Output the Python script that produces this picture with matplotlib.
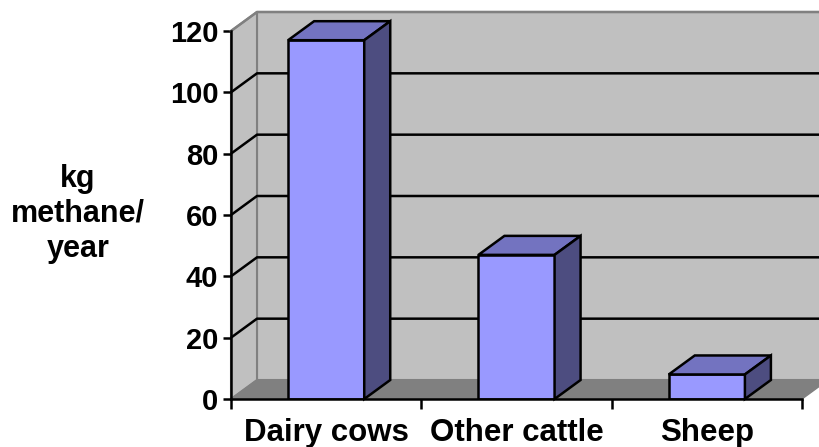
import matplotlib
matplotlib.use("Agg")
import matplotlib.pyplot as plt
from matplotlib.patches import Polygon

categories = ["Dairy cows", "Other cattle", "Sheep"]
values = [117, 47, 8]
y_ticks = [0, 20, 40, 60, 80, 100, 120]
y_label = "kg\nmethane/\nyear"

plt.rcParams['font.family'] = ['Liberation Sans', 'DejaVu Sans']

W, H = 820, 447
fig = plt.figure(figsize=(W / 100, H / 100), dpi=100)
left_px, right_px, bot_px, top_px = 231, 802, 399, 31
ax = fig.add_axes([left_px / W, (H - bot_px) / H, (right_px - left_px) / W, (bot_px - top_px) / H])

n = len(categories)
ymax = 120
ax.set_xlim(0, n)
ax.set_ylim(0, ymax)

# depth offsets (px -> data)
dx = 26 * n / (right_px - left_px)
dy = 19 * ymax / (bot_px - top_px)

wall = "#c0c0c0"
floor = "#808080"
edge_gray = "#808080"

# back wall
ax.add_patch(Polygon([(dx, dy), (n + dx, dy), (n + dx, ymax + dy), (dx, ymax + dy)],
                     closed=True, facecolor=wall, edgecolor=edge_gray, lw=1.5, clip_on=False, zorder=1))
# side wall
ax.add_patch(Polygon([(0, 0), (dx, dy), (dx, ymax + dy), (0, ymax)],
                     closed=True, facecolor=wall, edgecolor=edge_gray, lw=1.5, clip_on=False, zorder=1))
# floor
ax.add_patch(Polygon([(0, 0), (n, 0), (n + dx, dy), (dx, dy)],
                     closed=True, facecolor=floor, edgecolor=edge_gray, lw=1.0, clip_on=False, zorder=1))

# gridlines
for v in y_ticks[1:-1]:
    ax.plot([0, dx, n + dx], [v, v + dy, v + dy], color="black", lw=1.8, clip_on=False, zorder=2,
            solid_capstyle="butt")
ax.plot([0, dx, n + dx], [ymax, ymax + dy, ymax + dy], color=edge_gray, lw=1.8, clip_on=False, zorder=2)

# bars
bw = 0.4
front_c, top_c, side_c = "#9999ff", "#7373c0", "#4d4d80"
for i, v in enumerate(values):
    x0 = i + 0.5 - bw / 2
    x1 = x0 + bw
    ax.add_patch(Polygon([(x0, 0), (x1, 0), (x1, v), (x0, v)], closed=True,
                         facecolor=front_c, edgecolor="black", lw=1.8, zorder=4, joinstyle="miter"))
    ax.add_patch(Polygon([(x0, v), (x1, v), (x1 + dx, v + dy), (x0 + dx, v + dy)], closed=True,
                         facecolor=top_c, edgecolor="black", lw=1.8, zorder=4, clip_on=False))
    ax.add_patch(Polygon([(x1, 0), (x1 + dx, dy), (x1 + dx, v + dy), (x1, v)], closed=True,
                         facecolor=side_c, edgecolor="black", lw=1.8, zorder=4, clip_on=False))

# axes
for s in ["top", "right"]:
    ax.spines[s].set_visible(False)
ax.spines["left"].set_linewidth(1.8)
ax.spines["bottom"].set_linewidth(1.8)
ax.spines["left"].set_zorder(5)
ax.spines["bottom"].set_zorder(5)
ax.patch.set_visible(False)

ax.set_yticks(y_ticks)
ax.set_yticklabels([str(t) for t in y_ticks], fontsize=21, fontweight="bold")
ax.set_xticks(range(n + 1))
ax.set_xticklabels([])
ax.set_xticks([i + 0.5 for i in range(n)], minor=True)
ax.set_xticklabels(categories, minor=True, fontsize=22.5, fontweight="bold")
ax.tick_params(axis="x", which="minor", length=0, pad=14)
ax.tick_params(axis="x", which="major", length=7, width=1.8, direction="out")
ax.tick_params(axis="y", length=6, width=1.8, direction="out", pad=3)

fig.text(78 / W, 1 - 214 / H, y_label, fontsize=22, fontweight="bold", ha="center", va="center",
         linespacing=1.2)

fig.savefig("out.png", dpi=100)
